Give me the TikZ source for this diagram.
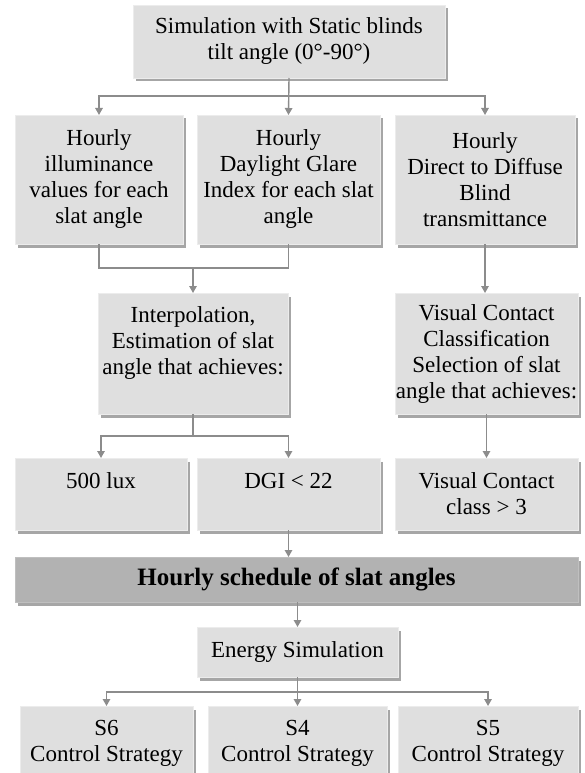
\documentclass[tikz,border=0pt]{standalone}
\usepackage{fontspec}
\setmainfont{Liberation Serif}
\usetikzlibrary{arrows.meta,shadows}
\tikzset{
	stepbox/.style={fill=gray!25, draw=gray!15, line width=0.6pt, align=center, inner sep=0pt, outer sep=0pt,
		font=\fontsize{23}{26}\selectfont,
		drop shadow={shadow xshift=3pt, shadow yshift=-3.5pt, fill=black, opacity=0.35}},
	keybox/.style={stepbox, fill=gray!60, draw=gray!50, font=\fontsize{25}{28}\selectfont\bfseries},
	conn/.style={draw=gray!90, line width=1.4pt},
	arrowline/.style={conn, -{Triangle[length=7pt,width=7.5pt]}}
}

\begin{document}
\begin{tikzpicture}[x=1pt, y=-1pt]
			%%%%% START %%%%%
			\clip (0, 0) rectangle (585, 773);
			\useasboundingbox (0, 0) rectangle (585, 773);
			\fill[white] (0, 0) rectangle (585, 773);
			
			\node[stepbox, minimum width=312, minimum height=73] (sim) at (289, 41.5) {Simulation with Static blinds\\ tilt angle (0°-90°)};
			
			\node[stepbox, minimum width=168, minimum height=129] (illum) at (99, 179.5) {Hourly\\ illuminance\\ values for each\\ slat angle};
			\node[stepbox, minimum width=183, minimum height=129] (dgi) at (288.5, 179.5) {Hourly\\ Daylight Glare\\ Index for each slat\\ angle};
			\node[stepbox, minimum width=180, minimum height=129] (trans) at (485, 179.5) {Hourly\\ Direct to Diffuse\\ Blind\\ transmittance};
			
			\node[stepbox, minimum width=190, minimum height=121] (interp) at (193, 353.5) {Interpolation,\\ Estimation of slat\\ angle that achieves:\\ ~};
			\node[stepbox, minimum width=183, minimum height=121] (visual) at (486.5, 353.5) {Visual Contact\\ Classification\\ Selection of slat\\ angle that achieves:};
			
			\node[stepbox, minimum width=172, minimum height=72] (lux) at (101, 494) {500 lux\\ ~};
			\node[stepbox, minimum width=183, minimum height=72] (dgilim) at (288.5, 494) {DGI < 22\\ ~};
			\node[stepbox, minimum width=183, minimum height=72] (vclass) at (486.5, 494) {Visual Contact\\ class > 3};
			
			\node[keybox, minimum width=563, minimum height=45] (sched) at (296.5, 579.5) {Hourly schedule of slat angles};
			
			\node[stepbox, minimum width=201, minimum height=50] (energy) at (297.5, 652) {Energy Simulation};
			
			\node[stepbox, minimum width=173, minimum height=75] (s6) at (106.5, 743.5) {S6\\ Control Strategy};
			\node[stepbox, minimum width=179, minimum height=75] (s4) at (297.5, 743.5) {S4\\ Control Strategy};
			\node[stepbox, minimum width=180, minimum height=75] (s5) at (488, 743.5) {S5\\ Control Strategy};
			
			\coordinate (split1) at (289, 96);
			\coordinate (merge1) at (193, 268);
			\coordinate (split2) at (193, 436);
			\coordinate (split3) at (297.5, 692);
			
			\draw[arrowline] (sim.south) -- (dgi.north);
			\draw[arrowline] (split1) -| (illum.north);
			\draw[arrowline] (split1) -| (trans.north);
			
			\draw[conn] (illum.south) |- (merge1) -| (dgi.south);
			\draw[arrowline] (merge1) -- (interp.north);
			\draw[arrowline] (trans.south) -- (trans.south |- visual.north);
			
			\draw[conn] (interp.south) -- (split2);
			\draw[arrowline] (split2) -| (lux.north);
			\draw[arrowline] (split2) -| (dgilim.north);
			\draw[arrowline] (visual.south) -- (visual.south |- vclass.north);
			
			\draw[arrowline] (dgilim.south) -- (dgilim.south |- sched.north);
			\draw[arrowline] (sched.south -| energy.north) -- (energy.north);
			
			\draw[conn] (energy.south) -- (split3);
			\draw[arrowline] (split3) -| (s6.north);
			\draw[arrowline] (split3) -- (s4.north);
			\draw[arrowline] (split3) -| (s5.north);
			%%%%% END %%%%%
\end{tikzpicture}
\end{document}
